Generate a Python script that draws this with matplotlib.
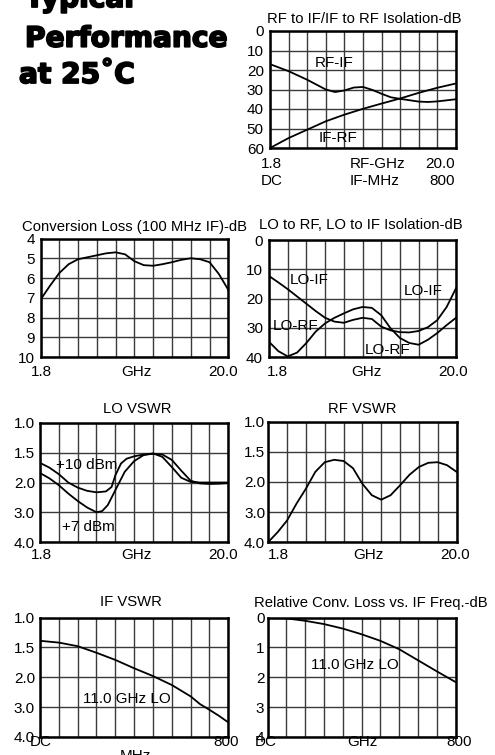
import numpy as np
import matplotlib
matplotlib.use("Agg")
import matplotlib.pyplot as plt
import matplotlib.patheffects as pe

plt.rcParams['font.family'] = ['Liberation Sans', 'DejaVu Sans']

W, H = 495, 755

# ---------------- data ----------------
# Panel 1: RF to IF / IF to RF isolation (dB) vs RF GHz
iso_rfif_x = [1.8, 3.62, 5.44, 7.26, 8.17, 9.08, 9.99, 10.9, 11.81, 12.72, 13.63, 14.54, 16.36, 17.27, 18.18, 20.0]
iso_rfif_y = [17.0, 20.6, 25.0, 30.0, 31.3, 30.5, 29.0, 28.7, 30.2, 32.2, 34.0, 34.8, 36.2, 36.4, 36.1, 35.0]
iso_ifrf_x = [1.8, 3.62, 5.44, 7.26, 9.08, 10.9, 12.72, 14.54, 16.36, 18.18, 20.0]
iso_ifrf_y = [60.0, 54.9, 50.6, 46.3, 42.9, 39.9, 37.2, 34.6, 31.7, 29.1, 26.9]

# Panel 2: Conversion loss (dB)
cl_x = [1.8, 2.71, 3.62, 4.53, 5.44, 6.35, 7.26, 8.17, 9.08, 9.99, 10.9, 11.81, 12.72, 13.63, 14.54, 15.45, 16.36, 17.27, 18.18, 19.09, 20.0]
cl_y = [7.1, 6.4, 5.75, 5.3, 5.05, 4.95, 4.85, 4.75, 4.7, 4.8, 5.15, 5.35, 5.38, 5.3, 5.2, 5.08, 5.0, 5.05, 5.2, 5.8, 6.6]

# Panel 3: LO isolation (dB)
lo_x = [1.8, 2.71, 3.62, 4.53, 5.44, 6.35, 7.26, 8.17, 9.08, 9.99, 10.9, 11.81, 12.72, 13.63, 14.54, 15.45, 16.36, 17.27, 18.18, 19.09, 20.0]
lo_if_y = [12.3, 14.5, 16.8, 19.3, 21.8, 24.3, 26.6, 27.9, 28.3, 27.3, 26.6, 27.0, 29.6, 30.9, 31.5, 31.6, 31.1, 29.8, 27.4, 22.9, 16.5]
lo_rf_y = [34.8, 38.0, 39.8, 38.5, 35.2, 31.3, 28.5, 26.6, 25.1, 23.7, 22.9, 23.2, 25.7, 30.2, 33.5, 35.2, 35.8, 34.1, 31.8, 29.1, 26.6]

# Panel 4: LO VSWR
lov_p10_x = [1.8, 2.71, 3.62, 4.53, 5.44, 6.35, 7.26, 8.17, 8.72, 9.08, 9.63, 10.17, 10.9, 11.81, 12.72, 13.63, 14.54, 15.45, 16.36, 17.27, 18.18, 19.09, 20.0]
lov_p10_y = [1.67, 1.75, 1.86, 2.0, 2.17, 2.28, 2.33, 2.3, 2.15, 1.88, 1.68, 1.6, 1.56, 1.53, 1.52, 1.53, 1.62, 1.8, 1.97, 2.03, 2.05, 2.04, 2.02]
lov_p7_x = [1.8, 2.71, 3.62, 4.53, 5.44, 6.35, 7.26, 7.81, 8.35, 9.08, 9.99, 10.9, 11.81, 12.72, 13.63, 14.54, 15.45, 16.36, 17.27, 18.18, 19.09, 20.0]
lov_p7_y = [1.84, 1.93, 2.09, 2.37, 2.62, 2.84, 3.0, 2.96, 2.76, 2.26, 1.82, 1.64, 1.54, 1.51, 1.57, 1.74, 1.92, 1.99, 2.0, 2.0, 2.0, 2.0]

# Panel 5: RF VSWR
rfv_x = [1.8, 2.71, 3.62, 4.53, 5.44, 6.35, 7.26, 8.17, 9.08, 9.99, 10.9, 11.81, 12.72, 13.63, 14.54, 15.45, 16.36, 17.27, 18.18, 19.09, 20.0]
rfv_y = [4.0, 3.67, 3.28, 2.72, 2.22, 1.83, 1.67, 1.63, 1.65, 1.77, 2.06, 2.44, 2.59, 2.44, 2.11, 1.88, 1.75, 1.68, 1.67, 1.72, 1.83]

# Panel 6: IF VSWR vs MHz
ifv_x = [0, 80, 160, 240, 320, 400, 480, 560, 640, 680, 720, 760, 800]
ifv_y = [1.39, 1.42, 1.48, 1.59, 1.71, 1.85, 1.98, 2.26, 2.64, 2.9, 3.09, 3.29, 3.51]

# Panel 7: Relative conversion loss vs IF freq
rcl_x = [0, 80, 160, 240, 320, 400, 480, 560, 640, 720, 800]
rcl_y = [0.0, 0.03, 0.11, 0.22, 0.37, 0.56, 0.78, 1.06, 1.43, 1.8, 2.16]

# tick labels
iso_yticks = [0, 10, 20, 30, 40, 50, 60]
cl_yticks = [4, 5, 6, 7, 8, 9, 10]
lo_yticks = [0, 10, 20, 30, 40]
vswr_yticks = [1.0, 1.5, 2.0, 3.0, 4.0]
vswr_ylabels = ["1.0", "1.5", "2.0", "3.0", "4.0"]
rcl_yticks = [0, 1, 2, 3, 4]

ghz_xlabels = ["1.8", "GHz", "20.0"]
iso_xlabels = ["1.8\nDC", "RF-GHz\nIF-MHz", "20.0\n800"]
if_xlabels = ["DC", "MHz", "800"]
rcl_xlabels = ["DC", "GHz", "800"]

titles = ["RF to IF/IF to RF Isolation-dB", "Conversion Loss (100 MHz IF)-dB",
          "LO to RF, LO to IF Isolation-dB", "LO VSWR", "RF VSWR", "IF VSWR",
          "Relative Conv. Loss vs. IF Freq.-dB"]
heading = ["Typical", "Performance", "at 25˚C"]

# ---------------- figure ----------------
fig = plt.figure(figsize=(W / 100, H / 100), dpi=100)

FS = 11
TFS = 10.7
GRID_C = '#3a3a3a'


def mkax(l, t, r, b):
    return fig.add_axes([l / W, 1 - b / H, (r - l) / W, (b - t) / H])


vs_p = [0, 1, 2, 3, 4]
vs_v = [1.0, 1.5, 2.0, 3.0, 4.0]


def vswr_fwd(v):
    return np.interp(v, vs_v, vs_p)


def vswr_inv(p):
    return np.interp(p, vs_p, vs_v)


def style(ax, xlim, ylim, yticks, ylabels, ypad, vswr=False):
    if vswr:
        ax.set_yscale('function', functions=(vswr_fwd, vswr_inv))
    ax.set_xlim(*xlim)
    ax.set_ylim(*ylim)
    ax.set_yticks(yticks)
    ax.set_yticklabels(ylabels, fontsize=FS)
    ax.set_xticks([])
    ax.set_xticks(np.linspace(xlim[0], xlim[1], 11), minor=True)
    ax.yaxis.set_minor_locator(matplotlib.ticker.NullLocator())
    ax.tick_params(axis='both', which='both', length=0)
    ax.tick_params(axis='y', pad=ypad)
    ax.grid(True, which='minor', axis='x', color=GRID_C, lw=1.0)
    ax.grid(True, which='major', axis='y', color=GRID_C, lw=1.0)
    ax.set_axisbelow(True)
    for s in ax.spines.values():
        s.set_linewidth(1.8)
        s.set_color('black')


def title(ax, txt, dx, dy):
    ax.annotate(txt, xy=(0.5, 1.0), xycoords='axes fraction', xytext=(dx, dy),
                textcoords='offset pixels', ha='center', va='baseline', fontsize=TFS)


def xlab(ax, x, txt, ha, dx, dy, **kw):
    ax.annotate(txt, xy=(x, 0.0), xycoords=('data', 'axes fraction'), xytext=(dx, -dy),
                textcoords='offset pixels', ha=ha, va='center', fontsize=FS, **kw)


LW = 1.3

# Panel 1
ax1 = mkax(270, 31, 456, 148)
style(ax1, (1.8, 20.0), (60, 0), iso_yticks, [str(v) for v in iso_yticks], 4.5)
ax1.plot(iso_rfif_x, iso_rfif_y, color='black', lw=LW)
ax1.plot(iso_ifrf_x, iso_ifrf_y, color='black', lw=LW)
ax1.text(6.2, 16.5, "RF-IF", fontsize=FS, ha='left', va='center')
ax1.text(6.55, 55.0, "IF-RF", fontsize=FS, ha='left', va='center')
title(ax1, titles[0], 1, 8)
xlab(ax1, 1.8, iso_xlabels[0], 'left', -9, 24.5, linespacing=1.25)
xlab(ax1, 10.9, iso_xlabels[1], 'left', -13, 24.5, linespacing=1.25)
xlab(ax1, 20.0, iso_xlabels[2], 'right', -1, 24.5, linespacing=1.25, multialignment='right')

# Panel 2
ax2 = mkax(40.5, 238.5, 228.3, 357)
style(ax2, (1.8, 20.0), (10, 4), cl_yticks, [str(v) for v in cl_yticks], 4)
ax2.plot(cl_x, cl_y, color='black', lw=LW)
title(ax2, titles[1], 0.6, 7)
xlab(ax2, 1.8, ghz_xlabels[0], 'center', 1, 14.5)
xlab(ax2, 10.9, ghz_xlabels[1], 'center', 2, 14.5)
xlab(ax2, 20.0, ghz_xlabels[2], 'center', -5, 14.5)

# Panel 3
ax3 = mkax(269, 240, 456, 357)
style(ax3, (1.8, 20.0), (40, 0), lo_yticks, [str(v) for v in lo_yticks], 4.3)
ax3.plot(lo_x, lo_if_y, color='black', lw=LW)
ax3.plot(lo_x, lo_rf_y, color='black', lw=LW)
ax3.text(3.85, 13.7, "LO-IF", fontsize=FS, ha='left', va='center')
ax3.text(14.9, 17.5, "LO-IF", fontsize=FS, ha='left', va='center')
ax3.text(2.15, 29.5, "LO-RF", fontsize=FS, ha='left', va='center')
ax3.text(11.15, 37.7, "LO-RF", fontsize=FS, ha='left', va='center')
title(ax3, titles[2], -2, 10.7)
xlab(ax3, 1.8, ghz_xlabels[0], 'center', 8.5, 14.5)
xlab(ax3, 10.9, ghz_xlabels[1], 'center', 3.5, 14.5)
xlab(ax3, 20.0, ghz_xlabels[2], 'center', -3, 14.5)

# Panel 4
ax4 = mkax(40, 423, 228.3, 542)
style(ax4, (1.8, 20.0), (4.0, 1.0), vswr_yticks, vswr_ylabels, 3.6, vswr=True)
ax4.plot(lov_p10_x, lov_p10_y, color='black', lw=LW)
ax4.plot(lov_p7_x, lov_p7_y, color='black', lw=LW)
ax4.text(3.35, 1.71, "+10 dBm", fontsize=FS, ha='left', va='center')
ax4.text(3.9, 3.5, "+7 dBm", fontsize=FS, ha='left', va='center')
title(ax4, titles[3], 3.3, 9.7)
xlab(ax4, 1.8, ghz_xlabels[0], 'center', 1, 13)
xlab(ax4, 10.9, ghz_xlabels[1], 'center', 2, 13)
xlab(ax4, 20.0, ghz_xlabels[2], 'center', -5, 13)

# Panel 5
ax5 = mkax(268.3, 422, 456.5, 542)
style(ax5, (1.8, 20.0), (4.0, 1.0), vswr_yticks, vswr_ylabels, 2.2, vswr=True)
ax5.plot(rfv_x, rfv_y, color='black', lw=LW)
title(ax5, titles[4], 0, 8.7)
xlab(ax5, 1.8, ghz_xlabels[0], 'center', 10, 13)
xlab(ax5, 10.9, ghz_xlabels[1], 'center', 6.4, 13)
xlab(ax5, 20.0, ghz_xlabels[2], 'center', -1.5, 13)

# Panel 6
ax6 = mkax(40, 617.5, 228.3, 737)
style(ax6, (0, 800), (4.0, 1.0), vswr_yticks, vswr_ylabels, 3.6, vswr=True)
ax6.plot(ifv_x, ifv_y, color='black', lw=LW)
ax6.text(182, 2.72, "11.0 GHz LO", fontsize=FS, ha='left', va='center')
title(ax6, titles[5], -3.4, 11)
xlab(ax6, 0, if_xlabels[0], 'center', 0.5, 5.5)
xlab(ax6, 400, if_xlabels[1], 'center', 1, 19)
xlab(ax6, 800, if_xlabels[2], 'center', -2, 5.5)

# Panel 7
ax7 = mkax(267.5, 617.5, 455.5, 737)
style(ax7, (0, 800), (4, 0), rcl_yticks, [str(v) for v in rcl_yticks], 2.2)
ax7.plot(rcl_x, rcl_y, color='black', lw=LW)
ax7.text(184, 1.58, "11.0 GHz LO", fontsize=FS, ha='left', va='center')
title(ax7, titles[6], 9, 11)
xlab(ax7, 0, rcl_xlabels[0], 'center', -2, 5.5)
xlab(ax7, 400, rcl_xlabels[1], 'center', 1, 5.5)
xlab(ax7, 800, rcl_xlabels[2], 'center', 3.5, 5.5)

# Heading
for txt, x, yb in zip(heading, [25, 25, 19], [7, 46.7, 83]):
    fig.text(x / W, 1 - yb / H, txt, fontsize=20.2, fontweight='bold',
             family=['DejaVu Sans'], va='baseline', ha='left',
             path_effects=[pe.withStroke(linewidth=1.3, foreground='black')])

fig.savefig("out.png", dpi=100)
